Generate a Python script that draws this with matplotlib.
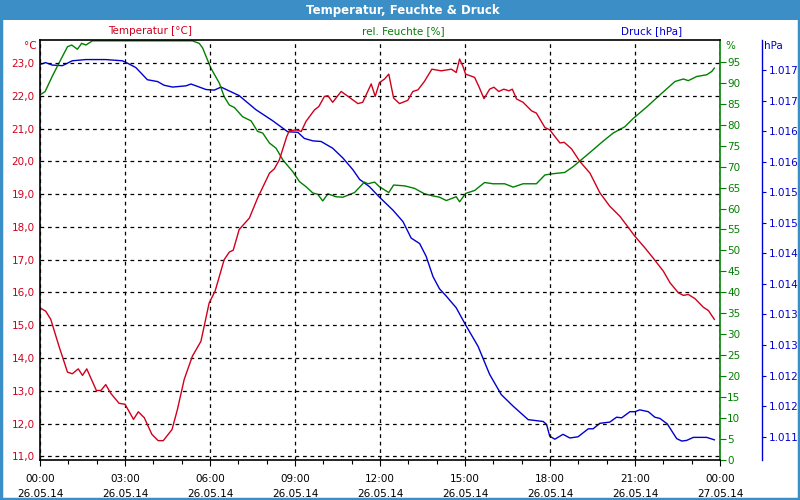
import matplotlib
matplotlib.use("Agg")
import matplotlib.pyplot as plt
from matplotlib.patches import Rectangle
from matplotlib.ticker import FixedLocator, MultipleLocator

# ---------------- data ----------------
temp_hours = [0.00, 0.20, 0.38, 0.67, 0.97, 1.14, 1.35, 1.50, 1.65, 1.99, 2.15, 2.32, 2.50, 2.79,
              3.00, 3.30, 3.47, 3.68, 3.95, 4.17, 4.35, 4.66, 4.85, 5.09, 5.38, 5.68, 5.97, 6.18,
              6.50, 6.68, 6.82, 7.03, 7.39, 7.68, 8.10, 8.27, 8.45, 8.71, 8.80, 9.04, 9.22, 9.39,
              9.69, 9.84, 10.04, 10.16, 10.33, 10.63, 10.92, 11.22, 11.39, 11.69, 11.83, 11.98,
              12.16, 12.31, 12.48, 12.69, 12.98, 13.16, 13.34, 13.57, 13.83, 14.16, 14.52, 14.69,
              14.81, 14.93, 15.02, 15.34, 15.49, 15.67, 15.87, 16.02, 16.19, 16.37, 16.55, 16.67,
              16.82, 17.05, 17.35, 17.52, 17.82, 17.99, 18.35, 18.50, 18.76, 19.05, 19.41, 19.76,
              20.11, 20.47, 21.00, 21.35, 21.64, 22.00, 22.24, 22.53, 22.71, 22.88, 23.12, 23.41,
              23.59, 23.80]
temperature = [15.53, 15.43, 15.18, 14.36, 13.57, 13.52, 13.67, 13.47, 13.67, 13.01, 13.01, 13.19,
               12.92, 12.62, 12.59, 12.13, 12.36, 12.18, 11.67, 11.48, 11.48, 11.82, 12.43, 13.35,
               14.06, 14.51, 15.68, 16.04, 17.00, 17.23, 17.29, 17.92, 18.27, 18.88, 19.64, 19.77,
               20.05, 20.76, 20.93, 20.96, 20.91, 21.22, 21.57, 21.67, 21.98, 22.00, 21.80, 22.13,
               21.95, 21.76, 21.80, 22.36, 21.98, 22.40, 22.51, 22.66, 21.93, 21.76, 21.86, 22.13,
               22.18, 22.44, 22.81, 22.76, 22.81, 22.71, 23.12, 22.89, 22.66, 22.56, 22.28, 21.91,
               22.20, 22.26, 22.13, 22.20, 22.15, 22.20, 21.90, 21.80, 21.54, 21.47, 21.03, 20.96,
               20.56, 20.58, 20.38, 20.00, 19.64, 19.04, 18.63, 18.32, 17.71, 17.36, 17.05, 16.65,
               16.29, 15.99, 15.91, 15.94, 15.81, 15.55, 15.45, 15.18]

hum_hours = [0.00, 0.18, 0.43, 0.67, 0.97, 1.12, 1.32, 1.47, 1.62, 1.85, 2.60, 3.50, 4.40, 5.38,
             5.62, 5.74, 5.86, 6.03, 6.33, 6.50, 6.68, 6.86, 7.15, 7.45, 7.68, 7.86, 8.10, 8.33,
             8.57, 8.92, 9.16, 9.39, 9.63, 9.80, 9.98, 10.16, 10.45, 10.69, 11.10, 11.45, 11.57,
             11.81, 11.98, 12.31, 12.48, 12.87, 13.22, 13.57, 13.87, 14.10, 14.34, 14.69, 14.81,
             15.02, 15.34, 15.69, 15.99, 16.40, 16.70, 17.05, 17.52, 17.82, 18.11, 18.52, 18.82,
             19.17, 19.52, 19.88, 20.23, 20.64, 20.94, 21.41, 21.88, 22.41, 22.71, 22.88, 23.18,
             23.53, 23.71, 23.80]
humidity = [87.1, 87.9, 91.5, 94.7, 98.6, 99.0, 98.0, 99.4, 99.0, 100.0, 100.0, 100.0, 100.0, 100.0,
            99.4, 98.3, 96.3, 93.5, 89.9, 86.7, 84.7, 84.1, 81.9, 80.9, 78.4, 78.0, 75.6, 74.4,
            71.6, 68.8, 66.4, 65.2, 63.7, 63.4, 61.8, 63.5, 62.8, 62.7, 63.8, 66.3, 65.9,
            66.3, 65.2, 63.8, 65.6, 65.4, 64.8, 63.5, 63.0, 62.7, 61.9, 62.8, 61.6,
            63.6, 64.3, 66.2, 65.9, 65.9, 65.1, 65.9, 65.9, 68.0, 68.3, 68.6, 70.0,
            72.0, 74.0, 76.1, 78.0, 79.5, 81.5, 84.2, 87.1, 90.3, 90.9, 90.5, 91.5,
            91.9, 92.7, 93.5]

press_hours = [0.00, 0.20, 0.43, 0.79, 1.14, 1.62, 2.32, 2.91, 3.09, 3.38, 3.79, 4.15, 4.38, 4.68,
               5.15, 5.33, 5.86, 6.15, 6.39, 7.03, 7.62, 8.21, 8.74, 9.10, 9.33, 9.63, 9.92, 10.33,
               10.69, 11.04, 11.28, 11.63, 11.98, 12.45, 12.81, 13.10, 13.40, 13.63, 13.87, 14.10,
               14.34, 14.69, 15.02, 15.46, 15.87, 16.28, 16.70, 17.23, 17.76, 17.88, 17.99, 18.17,
               18.46, 18.70, 18.99, 19.35, 19.52, 19.76, 20.11, 20.35, 20.53, 20.82, 21.00, 21.17,
               21.47, 21.70, 21.88, 22.14, 22.47, 22.65, 22.82, 23.06, 23.53, 23.80]
pressure = [1017.09, 1017.12, 1017.08, 1017.07, 1017.15, 1017.17, 1017.17, 1017.15, 1017.11,
            1017.04, 1016.84, 1016.81, 1016.75, 1016.72, 1016.74, 1016.77, 1016.68, 1016.67,
            1016.72, 1016.58, 1016.35, 1016.17, 1015.99, 1015.98, 1015.88, 1015.84, 1015.83,
            1015.72, 1015.56, 1015.37, 1015.21, 1015.09, 1014.92, 1014.71, 1014.52, 1014.25,
            1014.16, 1013.95, 1013.62, 1013.42, 1013.30, 1013.11, 1012.83, 1012.48, 1012.02,
            1011.69, 1011.50, 1011.28, 1011.25, 1011.20, 1011.01, 1010.96, 1011.04, 1010.98,
            1011.00, 1011.13, 1011.13, 1011.22, 1011.24, 1011.32, 1011.31, 1011.41, 1011.41,
            1011.44, 1011.41, 1011.32, 1011.30, 1011.21, 1010.97, 1010.93, 1010.94, 1010.99,
            1010.99, 1010.95]

x_ticks = [0, 3, 6, 9, 12, 15, 18, 21, 24]
x_labels = ["00:00\n26.05.14", "03:00\n26.05.14", "06:00\n26.05.14", "09:00\n26.05.14",
            "12:00\n26.05.14", "15:00\n26.05.14", "18:00\n26.05.14", "21:00\n26.05.14",
            "00:00\n27.05.14"]
temp_ticks = [11, 12, 13, 14, 15, 16, 17, 18, 19, 20, 21, 22, 23]
temp_labels = ["11,0", "12,0", "13,0", "14,0", "15,0", "16,0", "17,0", "18,0", "19,0",
               "20,0", "21,0", "22,0", "23,0"]
hum_ticks = [0, 5, 10, 15, 20, 25, 30, 35, 40, 45, 50, 55, 60, 65, 70, 75, 80, 85, 90, 95]
press_ticks = [1011.0, 1011.5, 1012.0, 1012.5, 1013.0, 1013.5, 1014.0, 1014.5, 1015.0,
               1015.5, 1016.0, 1016.5, 1017.0]
press_labels = ["1.011", "1.012", "1.012", "1.013", "1.013", "1.014", "1.014", "1.015",
                "1.015", "1.016", "1.016", "1.017", "1.017"]

# ---------------- style ----------------
RED = "#d0001c"
GREEN = "#008000"
BLUE = "#0000d0"
BAR = "#3c8fc6"
FS = 7.5

plt.rcParams["font.family"] = ["DejaVu Sans"]

fig = plt.figure(figsize=(8, 5), dpi=100)
fig.patch.set_facecolor("white")

# title bar and border
fig.add_artist(Rectangle((0, 0.96), 1, 0.04, transform=fig.transFigure,
                         facecolor=BAR, edgecolor="none", zorder=0))
fig.add_artist(Rectangle((0.0012, 0.002), 0.9976, 0.996, transform=fig.transFigure,
                         facecolor="none", edgecolor=BAR, lw=2.5, zorder=10))
fig.text(0.503, 0.979, "Temperatur, Feuchte & Druck", color="white", fontsize=8.5,
         fontweight="bold", ha="center", va="center")

ax = fig.add_axes([0.05, 0.08, 0.85, 0.84])
ax.set_facecolor("white")
ax.set_xlim(0, 24)
ax.set_ylim(10.89, 23.70)

# grid
ax.set_yticks(temp_ticks)
ax.set_yticklabels(temp_labels)
ax.set_xticks(x_ticks)
ax.set_xticklabels(x_labels, fontsize=FS, linespacing=1.6)
ax.xaxis.set_minor_locator(MultipleLocator(1))
ax.grid(True, which="major", color="black", lw=0.9, linestyle=(0, (3, 3)))
ax.tick_params(axis="y", colors=RED, labelsize=FS, length=0, pad=4)
ax.tick_params(axis="x", which="major", colors="black", labelsize=FS, length=4, width=0.8,
               direction="out", pad=6)
ax.tick_params(axis="x", which="minor", length=3, width=0.8, direction="out")
for s in ("left", "top", "bottom"):
    ax.spines[s].set_color("black")
    ax.spines[s].set_linewidth(1.2)
ax.spines["right"].set_visible(False)

# humidity axis
ax2 = ax.twinx()
ax2.set_ylim(0, 100.2)
ax2.set_yticks(hum_ticks)
ax2.tick_params(axis="y", colors=GREEN, labelsize=FS, length=4, width=0.8, pad=1)
for s in ("left", "top", "bottom"):
    ax2.spines[s].set_visible(False)
ax2.spines["right"].set_color(GREEN)
ax2.spines["right"].set_linewidth(1.2)

# pressure axis
ax3 = ax.twinx()
ax3.set_ylim(1010.62, 1017.49)
ax3.spines["right"].set_position(("axes", 1.0618))
ax3.set_yticks(press_ticks)
ax3.set_yticklabels(press_labels)
ax3.tick_params(axis="y", colors=BLUE, labelsize=FS, length=3, width=0.8, pad=2)
for s in ("left", "top", "bottom"):
    ax3.spines[s].set_visible(False)
ax3.spines["right"].set_color(BLUE)
ax3.spines["right"].set_linewidth(1.0)

# lines
ax3.plot(press_hours, pressure, color=BLUE, lw=1.0, clip_on=True)
ax2.plot(hum_hours, humidity, color=GREEN, lw=1.0, clip_on=True)
ax.plot(temp_hours, temperature, color=RED, lw=1.0, clip_on=True)
ax.set_zorder(3)
ax.patch.set_visible(False)
ax2.set_zorder(2)
ax3.set_zorder(1)
ax3.patch.set_facecolor("white")
ax3.patch.set_visible(True)

# series labels
fig.text(150 / 800, 1 - 31 / 500, "Temperatur [°C]", color=RED, fontsize=FS, ha="center", va="center")
fig.text(403 / 800, 1 - 31 / 500, "rel. Feuchte [%]", color=GREEN, fontsize=FS, ha="center", va="center")
fig.text(652 / 800, 1 - 31 / 500, "Druck [hPa]", color=BLUE, fontsize=FS, ha="center", va="center")
fig.text(37 / 800, 1 - 46 / 500, "°C", color=RED, fontsize=FS, ha="right", va="center")
fig.text(725 / 800, 1 - 46 / 500, "%", color=GREEN, fontsize=FS, ha="left", va="center")
fig.text(764 / 800, 1 - 46 / 500, "hPa", color=BLUE, fontsize=FS, ha="left", va="center")

fig.savefig("out.png", dpi=100, facecolor=fig.get_facecolor())
